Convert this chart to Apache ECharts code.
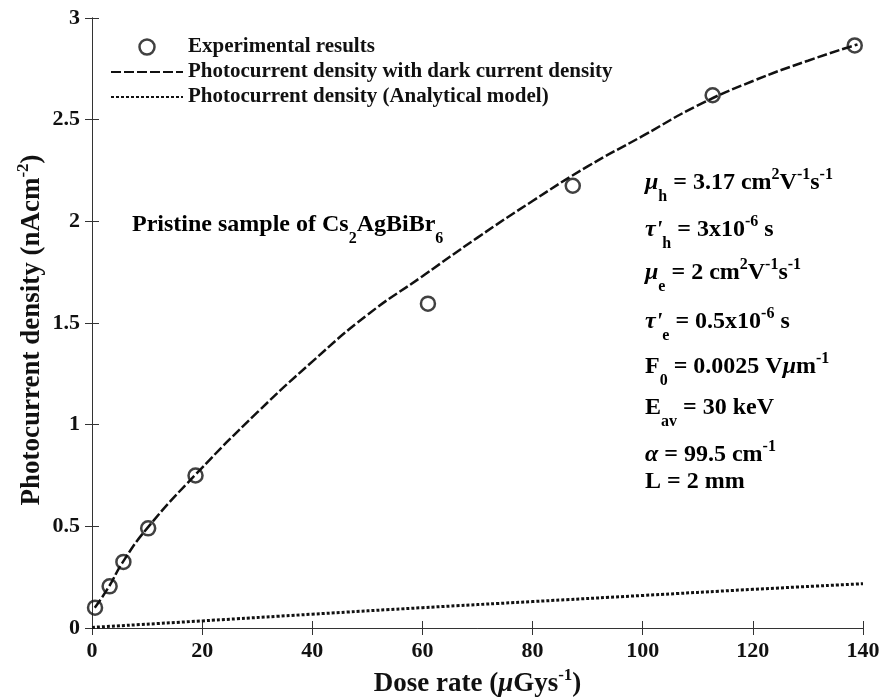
<!DOCTYPE html>
<html>
<head>
<meta charset="utf-8">
<title>Photocurrent density vs dose rate</title>
<script src="https://cdn.jsdelivr.net/npm/echarts@6/dist/echarts.min.js"></script>
<style>
  html, body { margin: 0; padding: 0; background: #fff; }
  #chart { width: 884px; height: 700px; }
</style>
</head>
<body>
<div id="chart"></div>
<script>
// experimental points
const expDose = [0.55, 3.2, 5.7, 10.2, 18.8, 61.0, 87.3, 112.7, 138.5];
const expCurrent = [0.1, 0.205, 0.325, 0.49, 0.75, 1.595, 2.175, 2.62, 2.865];

// model with dark current (dashed)
const darkDose = [0.5, 3, 5.5, 10, 19, 30, 40, 50, 60, 70, 80, 90, 100, 110, 120, 130, 139];
const darkCurrent = [0.1, 0.2, 0.32, 0.49, 0.76, 1.06, 1.31, 1.54, 1.73, 1.92, 2.1, 2.27, 2.42, 2.57, 2.69, 2.79, 2.87];

// analytical model (dotted)
const modelDose = [0, 20, 40, 60, 80, 100, 120, 140];
const modelCurrent = [0.003, 0.035, 0.068, 0.1, 0.13, 0.16, 0.19, 0.218];

const legendNames = [
  'Experimental results',
  'Photocurrent density with dark current density',
  'Photocurrent density (Analytical model)'
];

const FONT = '"Liberation Serif", "Times New Roman", serif';
const INK = '#111';

function pairs(xs, ys) {
  return xs.map((x, i) => [x, ys[i]]);
}

// rich styles for sub/superscripts (zrender places tokens inside the 44px line box)
const richBase = {
  n: { fontFamily: FONT, fontWeight: 'bold', fontSize: 24, lineHeight: 44, color: INK },
  i: { fontFamily: FONT, fontWeight: 'bold', fontStyle: 'italic', fontSize: 24, lineHeight: 44, color: INK },
  sup: { fontFamily: FONT, fontWeight: 'bold', fontSize: 16, verticalAlign: 'top', padding: [6, 0, 0, 0], color: INK },
  sub: { fontFamily: FONT, fontWeight: 'bold', fontSize: 16, verticalAlign: 'bottom', color: INK }
};

function label(x, y, text) {
  return {
    type: 'text',
    x: x,
    y: y,
    style: {
      text: text,
      rich: richBase,
      verticalAlign: 'middle',
      align: 'left'
    }
  };
}

const chart = echarts.init(document.getElementById('chart'));

const option = {
  backgroundColor: '#fff',
  animation: false,
  grid: { left: 92, right: 21, top: 18, bottom: 72, outerBoundsMode: 'none', containLabel: false },
  legend: {
    orient: 'vertical',
    left: 110,
    top: 36,
    padding: 0,
    itemWidth: 72,
    itemHeight: 15,
    itemGap: 3,
    textStyle: { fontFamily: FONT, fontWeight: 'bold', fontSize: 21, lineHeight: 22, color: INK },
    data: [
      {
        name: legendNames[0],
        icon: 'circle',
        symbolKeepAspect: true,
        itemStyle: { color: 'rgba(0,0,0,0)', borderColor: INK, borderWidth: 2.5 }
      },
      { name: legendNames[1], itemStyle: { color: 'rgba(0,0,0,0)', borderWidth: 0 } },
      { name: legendNames[2], itemStyle: { color: 'rgba(0,0,0,0)', borderWidth: 0 } }
    ]
  },
  xAxis: [
    {
      type: 'value',
      min: 0, max: 140, interval: 20,
      name: 'Dose rate ({i|μ}Gys{sup|-1})',
      nameLocation: 'middle',
      nameGap: 35,
      nameTextStyle: { fontFamily: FONT, fontWeight: 'bold', fontSize: 27, color: INK, rich: {
        i: { fontFamily: FONT, fontWeight: 'bold', fontStyle: 'italic', fontSize: 27, lineHeight: 40, color: INK },
        sup: { fontFamily: FONT, fontWeight: 'bold', fontSize: 17, verticalAlign: 'top', padding: [3, 0, 0, 0], color: INK }
      } },
      axisLine: { lineStyle: { color: '#333', width: 1 } },
      axisTick: { inside: true, length: 7, lineStyle: { color: '#333' } },
      axisLabel: { fontFamily: FONT, fontWeight: 'bold', fontSize: 22, color: INK, margin: 12 },
      splitLine: { show: false }
    },
    {
      type: 'value',
      position: 'top',
      min: 0, max: 140, interval: 20,
      axisLine: { lineStyle: { color: '#333', width: 1 } },
      axisTick: { inside: true, length: 7, lineStyle: { color: '#333' } },
      axisLabel: { show: false },
      splitLine: { show: false }
    }
  ],
  yAxis: [
    {
      type: 'value',
      min: 0, max: 3, interval: 0.5,
      axisLine: { show: true, lineStyle: { color: '#333', width: 1 } },
      axisTick: { show: true, inside: true, length: 7, lineStyle: { color: '#333' } },
      axisLabel: { fontFamily: FONT, fontWeight: 'bold', fontSize: 22, color: INK, margin: 12 },
      splitLine: { show: false }
    },
    {
      type: 'value',
      position: 'right',
      min: 0, max: 3, interval: 0.5,
      axisLine: { show: true, lineStyle: { color: '#333', width: 1 } },
      axisTick: { show: true, inside: true, length: 7, lineStyle: { color: '#333' } },
      axisLabel: { show: false },
      splitLine: { show: false }
    }
  ],
  series: [
    {
      name: legendNames[1],
      type: 'line',
      data: pairs(darkDose, darkCurrent),
      smooth: true,
      symbol: 'none',
      itemStyle: { color: INK },
      lineStyle: { color: INK, width: 2.5, type: [10, 3] },
      z: 2
    },
    {
      name: legendNames[2],
      type: 'line',
      data: pairs(modelDose, modelCurrent),
      smooth: true,
      symbol: 'none',
      itemStyle: { color: INK },
      lineStyle: { color: INK, width: 3, type: [3, 2] },
      z: 2
    },
    {
      name: legendNames[0],
      type: 'scatter',
      data: pairs(expDose, expCurrent),
      symbol: 'circle',
      symbolSize: 14,
      itemStyle: { color: 'rgba(0,0,0,0)', borderColor: INK, borderWidth: 2.5 },
      z: 3
    }
  ],
  graphic: [
    {
      type: 'text',
      x: 32,
      y: 330,
      rotation: Math.PI / 2,
      style: {
        text: 'Photocurrent density (nAcm{sup|-2})',
        rich: {
          sup: { fontFamily: FONT, fontWeight: 'bold', fontSize: 17, verticalAlign: 'top', padding: [3, 0, 0, 0], color: INK }
        },
        font: 'bold 27px ' + FONT,
        fill: INK,
        lineHeight: 40,
        align: 'center',
        verticalAlign: 'middle'
      }
    },
    label(132, 225, '{n|Pristine sample of Cs}{sub|2}{n|AgBiBr}{sub|6}'),
    label(645, 183, '{i|μ}{sub|h}{n| = 3.17 cm}{sup|2}{n|V}{sup|-1}{n|s}{sup|-1}'),
    label(645, 230, '{i|τ\'}{sub|h}{n| = 3x10}{sup|-6}{n| s}'),
    label(645, 273, '{i|μ}{sub|e}{n| = 2 cm}{sup|2}{n|V}{sup|-1}{n|s}{sup|-1}'),
    label(645, 322, '{i|τ\'}{sub|e}{n| = 0.5x10}{sup|-6}{n| s}'),
    label(645, 367, '{n|F}{sub|0}{n| = 0.0025 V}{i|μ}{n|m}{sup|-1}'),
    label(645, 408, '{n|E}{sub|av}{n| = 30 keV}'),
    label(645, 455, '{i|α}{n| = 99.5 cm}{sup|-1}'),
    label(645, 482, '{n|L = 2 mm}')
  ]
};

chart.setOption(option);
</script>
</body>
</html>
